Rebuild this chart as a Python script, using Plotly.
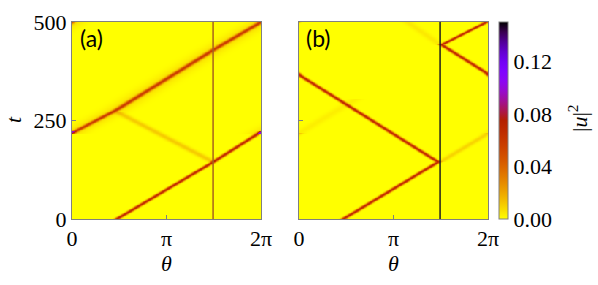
import numpy as np
import plotly.graph_objects as go

# ---- data ----
THETA_MAX = 2 * np.pi
T_MAX = 500
BARRIER_THETA = 4.69

# panel (a): soliton trajectories (theta, t) keypoints
a_main1_theta = [1.48, 4.69, 6.283]
a_main1_t = [0, 145, 222]
a_main2_theta = [0.0, 1.50, 4.69, 6.283]
a_main2_t = [218, 278, 429, 500]
a_refl_theta = [4.69, 1.50]
a_refl_t = [145, 272]

# panel (b)
b_main1_theta = [1.46, 4.62, 0.0]
b_main1_t = [0, 145, 366]
b_main2_theta = [6.283, 4.74, 6.24]
b_main2_t = [368, 442, 500]
b_trans1_theta = [4.69, 6.283]
b_trans1_t = [145, 218]
b_trans2_theta = [0.0, 1.9]
b_trans2_t = [218, 305]
b_trans3_theta = [4.69, 3.6]
b_trans3_t = [442, 500]

SOLITON_AMP = 0.066
DIFFUSE_AMP = 0.05
FAINT_AMP = 0.011
ZMAX = 0.15
cbar_ticks = [0.0, 0.04, 0.08, 0.12]
cbar_ticktext = ["0.00", "0.04", "0.08", "0.12"]

theta = np.linspace(0, THETA_MAX, 260)
t = np.linspace(0, T_MAX, 251)


def add_track(z, th_pts, t_pts, amp, sigma):
    for k in range(len(th_pts) - 1):
        t0, t1 = t_pts[k], t_pts[k + 1]
        th0, th1 = th_pts[k], th_pts[k + 1]
        last = k == len(th_pts) - 2
        for i, tv in enumerate(t):
            if tv < t0 or tv > t1 or (tv == t1 and not last):
                continue
            c = th0 + (th1 - th0) * (tv - t0) / (t1 - t0)
            d = np.abs(theta - c)
            d = np.minimum(d, THETA_MAX - d)
            z[i] += amp * np.exp(-d ** 2 / (2 * sigma ** 2))


za = np.zeros((len(t), len(theta)))
add_track(za, a_main1_theta, a_main1_t, SOLITON_AMP, 0.065)
add_track(za, a_main2_theta, a_main2_t, DIFFUSE_AMP, 0.08)
add_track(za, a_main2_theta, a_main2_t, FAINT_AMP * 0.6, 0.3)
add_track(za, a_refl_theta, a_refl_t, FAINT_AMP, 0.12)

zb = np.zeros((len(t), len(theta)))
add_track(zb, b_main1_theta, b_main1_t, SOLITON_AMP, 0.065)
add_track(zb, b_main2_theta, b_main2_t, SOLITON_AMP, 0.065)
add_track(zb, b_trans1_theta, b_trans1_t, FAINT_AMP * 0.8, 0.1)
add_track(zb, b_trans2_theta, b_trans2_t, FAINT_AMP * 0.3, 0.15)
add_track(zb, b_trans3_theta, b_trans3_t, FAINT_AMP * 0.4, 0.12)

za = np.round(za, 4).tolist()
zb = np.round(zb, 4).tolist()

# gnuplot-like palette, reversed (yellow -> orange -> red -> violet -> black)
cs = []
for s in np.linspace(0, 1, 21):
    x = 1 - s
    r = np.sqrt(x)
    g = x ** 3
    b = max(0.0, np.sin(2 * np.pi * x))
    cs.append([float(s), "rgb(%d,%d,%d)" % (round(255 * r), round(255 * g), round(255 * b))])

W, H = 598, 285
px = lambda v: v / W
py = lambda v: 1 - v / H

SERIF = "Liberation Serif, DejaVu Serif, serif"
font = dict(family=SERIF, size=22, color="black")

fig = go.Figure()
fig.add_trace(go.Heatmap(z=za, x=theta, y=t, colorscale=cs, zmin=0, zmax=ZMAX,
                         showscale=False, xaxis="x", yaxis="y"))
fig.add_trace(go.Heatmap(z=zb, x=theta, y=t, colorscale=cs, zmin=0, zmax=ZMAX,
                         xaxis="x2", yaxis="y2",
                         colorbar=dict(thickness=9, lenmode="pixels", len=197,
                                       x=px(499), xanchor="left", xpad=0, ypad=0,
                                       y=(py(22) + py(219)) / 2, yanchor="middle",
                                       outlinecolor="#808080", outlinewidth=1,
                                       tickvals=cbar_ticks, ticktext=cbar_ticktext,
                                       ticks="", tickfont=font)))

axis_common = dict(showline=True, mirror=True, linecolor="#808080", linewidth=1,
                   ticks="inside", ticklen=4, tickcolor="#808080", showgrid=False,
                   zeroline=False, tickfont=font, automargin=False)
xticks = dict(tickvals=[0, np.pi, 2 * np.pi], ticktext=["0", "π", "2π"], range=[0, THETA_MAX])

fig.update_layout(
    width=W, height=H, margin=dict(l=0, r=0, t=0, b=0, autoexpand=False),
    paper_bgcolor="white", plot_bgcolor="white", font=font,
    xaxis=dict(domain=[px(72), px(261)], anchor="y", **xticks, **axis_common),
    yaxis=dict(domain=[py(219), py(22)], anchor="x", range=[0, T_MAX],
               tickvals=[0, 250, 500], **axis_common),
    xaxis2=dict(domain=[px(299), px(488)], anchor="y2", **xticks, **axis_common),
    yaxis2=dict(domain=[py(219), py(22)], anchor="x2", range=[0, T_MAX],
                tickvals=[0, 250, 500], showticklabels=False, **axis_common),
    showlegend=False,
)

fig.add_shape(type="line", xref="x", yref="y", x0=BARRIER_THETA, x1=BARRIER_THETA,
              y0=0, y1=T_MAX, line=dict(color="#a8641c", width=1.5))
fig.add_shape(type="line", xref="x2", yref="y2", x0=BARRIER_THETA, x1=BARRIER_THETA,
              y0=0, y1=T_MAX, line=dict(color="#202020", width=1.5))


def note(text, x, y, f, angle=0):
    return dict(text=text, x=px(x), y=py(y), xref="paper", yref="paper", showarrow=False,
                xanchor="center", yanchor="middle", textangle=angle, font=f)


label_font = dict(family="Lato, Open Sans, sans-serif", size=23, color="black")
ann = [
    note("(a)", 91, 38, label_font),
    note("(b)", 318, 38, label_font),
    note("<i>θ</i>", 166, 263, font),
    note("<i>θ</i>", 393, 263, font),
    note("<i>t</i>", 13, 120, font, -90),
    note("|<i>u</i>|<sup>2</sup>", 578, 118, font, -90),
]
fig.update_layout(annotations=ann)

fig.write_html("out.html", config={"displayModeBar": False},
               post_script="document.body.style.margin='0';document.body.style.overflow='hidden';")
